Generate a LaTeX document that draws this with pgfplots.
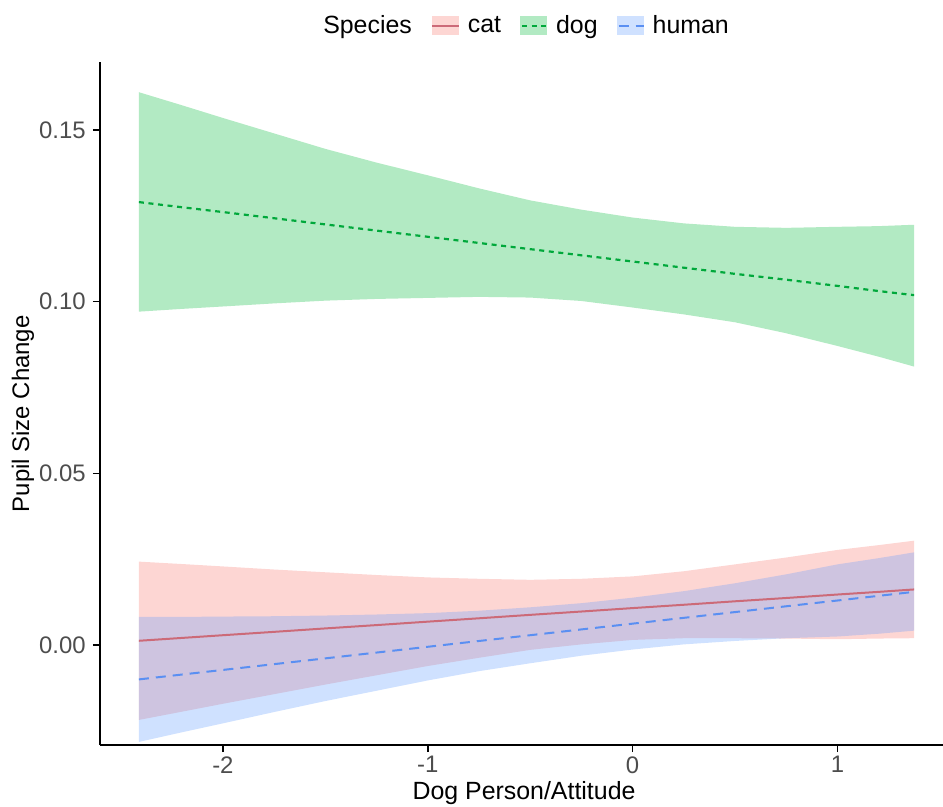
\documentclass[border=0pt]{standalone}
\usepackage{fontspec}
\setmainfont{Liberation Sans}
\usepackage{pgfplots}
\pgfplotsset{compat=1.18}
\usepackage{pgfplotstable}
\usepgfplotslibrary{fillbetween}

\definecolor{catfill}{HTML}{F8766D}
\definecolor{dogfill}{HTML}{00BA38}
\definecolor{humanfill}{HTML}{619CFF}
\definecolor{catline}{HTML}{CC6A78}
\definecolor{dogline}{HTML}{00A83B}
\definecolor{humanline}{HTML}{5A8FF2}
\definecolor{ticktext}{HTML}{4D4D4D}

% x, fitted line, upper and lower band
\pgfplotstableread{
x mid hi lo
-2.41 0.00125 0.0243 -0.0218
-2.2 0.00208 0.0236 -0.0194
-2 0.00287 0.0229 -0.0171
-1.75 0.00385 0.0220 -0.0143
-1.5 0.00485 0.0212 -0.0115
-1.25 0.00582 0.0204 -0.0088
-1 0.00682 0.0197 -0.0061
-0.75 0.00780 0.0193 -0.0037
-0.5 0.0088 0.0190 -0.0014
-0.25 0.00977 0.0193 0.0002
0 0.01077 0.0200 0.0015
0.25 0.01174 0.0215 0.0020
0.5 0.01275 0.0235 0.0020
0.75 0.01371 0.0255 0.0019
1 0.01472 0.0277 0.0017
1.2 0.01549 0.0291 0.0019
1.374 0.0162 0.0304 0.0020
}\catdata

\pgfplotstableread{
x mid hi lo
-2.41 0.1290 0.1610 0.0971
-2.2 0.1275 0.1572 0.0979
-2 0.1261 0.1535 0.0986
-1.75 0.1243 0.1490 0.0995
-1.5 0.1225 0.1445 0.1003
-1.25 0.1207 0.1405 0.1008
-1 0.1189 0.1368 0.1011
-0.75 0.1171 0.1330 0.1014
-0.5 0.1153 0.1295 0.1012
-0.25 0.1135 0.1268 0.1002
0 0.1117 0.1245 0.0983
0.25 0.1099 0.1228 0.0963
0.5 0.1081 0.1218 0.0940
0.75 0.1064 0.1215 0.0908
1 0.1046 0.1218 0.0871
1.2 0.1031 0.1220 0.0840
1.374 0.1019 0.1224 0.0811
}\dogdata

\pgfplotstableread{
x mid hi lo
-2.41 -0.0100 0.0082 -0.0282
-2.2 -0.00858 0.0082 -0.0254
-2 -0.00724 0.0083 -0.0228
-1.75 -0.00555 0.0084 -0.0195
-1.5 -0.00387 0.0086 -0.0163
-1.25 -0.00218 0.0089 -0.0133
-1 -0.00050 0.0093 -0.0103
-0.75 0.00119 0.0100 -0.0076
-0.5 0.00287 0.0110 -0.0053
-0.25 0.00456 0.0122 -0.0031
0 0.00624 0.0138 -0.0013
0.25 0.00793 0.0157 0.0002
0.5 0.00961 0.0180 0.0012
0.75 0.01130 0.0206 0.0020
1 0.01298 0.0235 0.0025
1.2 0.01433 0.0253 0.0033
1.374 0.0155 0.0270 0.0042
}\humandata

\begin{document}
\begin{tikzpicture}
\begin{axis}[
    scale only axis,
    width=421.5bp, height=341.5bp,
    xmin=-2.60, xmax=1.515,
    ymin=-0.0291, ymax=0.1698,
    axis lines=left,
    axis line style={-, line width=0.75bp, black},
    tick align=outside,
    major tick length=3.5bp,
    tick style={line width=0.75bp, black},
    xtick={-2,-1,0,1}, xticklabels={-2,-1,0,1},
    ytick={0,0.05,0.10,0.15}, yticklabels={0.00,0.05,0.10,0.15},
    ticklabel style={font=\fontsize{12}{14}\selectfont, text=ticktext, inner sep=0pt},
    xticklabel style={anchor=north, yshift=-2bp},
    yticklabel style={anchor=east, xshift=-3.5bp},
    xlabel={Dog Person/Attitude},
    ylabel={Pupil Size Change},
    every axis x label/.style={at={([yshift=-24bp]axis description cs:0.503,0)}, anchor=center,
        font=\fontsize{12.5}{15}\selectfont},
    every axis y label/.style={at={([xshift=-38.5bp]axis description cs:0,0.485)}, rotate=90, anchor=center,
        font=\fontsize{12}{15}\selectfont},
    legend columns=-1,
    legend style={at={([yshift=18bp]axis description cs:0.503,1)}, anchor=center,
        draw=none, fill=none, font=\fontsize{12.5}{15}\selectfont,
        /tikz/every even column/.append style={column sep=7.5bp},
        /tikz/every odd column/.append style={column sep=2bp}},
]
% bands
\addplot[draw=none, name path=dogHi, forget plot] table[x=x, y=hi] {\dogdata};
\addplot[draw=none, name path=dogLo, forget plot] table[x=x, y=lo] {\dogdata};
\addplot[dogfill, fill opacity=0.3, forget plot] fill between[of=dogHi and dogLo];
\addplot[draw=none, name path=catHi, forget plot] table[x=x, y=hi] {\catdata};
\addplot[draw=none, name path=catLo, forget plot] table[x=x, y=lo] {\catdata};
\addplot[catfill, fill opacity=0.3, forget plot] fill between[of=catHi and catLo];
\addplot[draw=none, name path=humHi, forget plot] table[x=x, y=hi] {\humandata};
\addplot[draw=none, name path=humLo, forget plot] table[x=x, y=lo] {\humandata};
\addplot[humanfill, fill opacity=0.3, forget plot] fill between[of=humHi and humLo];

\addlegendimage{empty legend}
\addlegendentry{Species}

% fitted lines
\addplot[catline, line width=1bp,
    legend image code/.code={
        \path[fill=catfill, fill opacity=0.3, draw=none] (0bp,-4.75bp) rectangle (13.5bp,4.75bp);
        \draw[catline, line width=1bp, solid] (0bp,0bp) -- (13.5bp,0bp);}]
    table[x=x, y=mid] {\catdata};
\addlegendentry{cat}
\addplot[dogline, line width=1.1bp, dash pattern=on 2.5bp off 2.3bp,
    legend image code/.code={
        \path[fill=dogfill, fill opacity=0.3, draw=none, solid] (0bp,-4.75bp) rectangle (13.5bp,4.75bp);
        \draw[dogline, line width=1.1bp, dash pattern=on 2.5bp off 2.3bp] (1bp,0bp) -- (13.5bp,0bp);}]
    table[x=x, y=mid] {\dogdata};
\addlegendentry{dog}
\addplot[humanline, line width=1bp, dash pattern=on 5bp off 3.5bp,
    legend image code/.code={
        \path[fill=humanfill, fill opacity=0.3, draw=none, solid] (0bp,-4.75bp) rectangle (13.5bp,4.75bp);
        \draw[humanline, line width=1bp, dash pattern=on 5bp off 3.5bp] (1bp,0bp) -- (13.5bp,0bp);}]
    table[x=x, y=mid] {\humandata};
\addlegendentry{human}
\end{axis}
\pgfresetboundingbox
\useasboundingbox ([shift={(-50bp,-31bp)}]current axis.south west) rectangle ([shift={(0bp,31bp)}]current axis.north east);
\end{tikzpicture}
\end{document}
